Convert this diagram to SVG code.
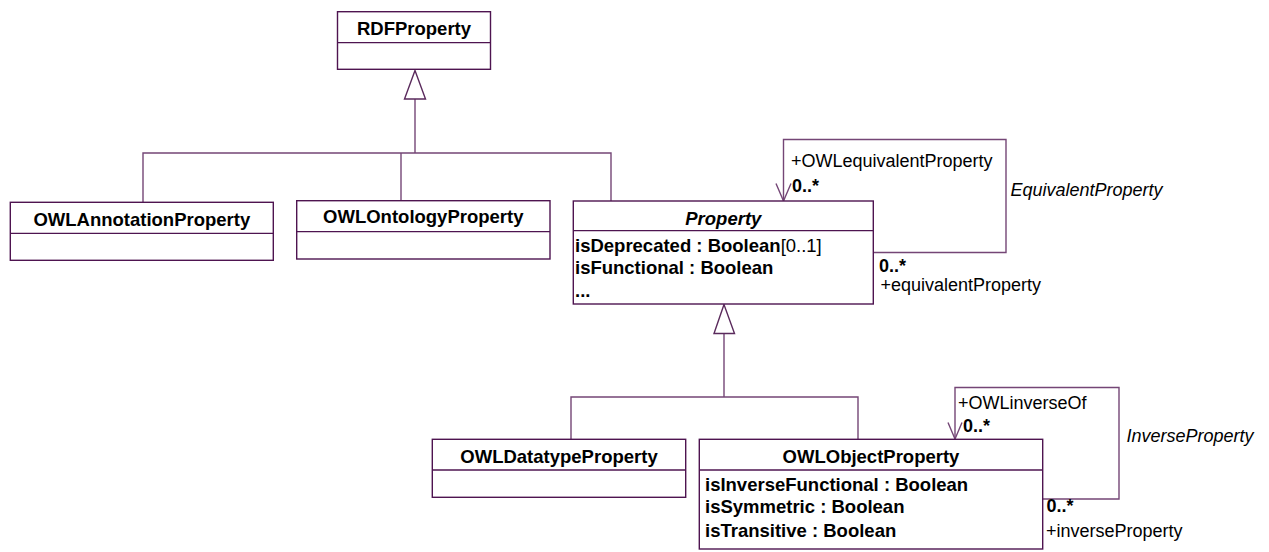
<svg xmlns="http://www.w3.org/2000/svg" width="1269" height="552" viewBox="0 0 1269 552">
<style>
.box{fill:#fff;stroke:#4e1450;stroke-width:1.4}
.div{stroke:#4e1450;stroke-width:1.3;fill:none}
.ln{stroke:#744676;stroke-width:1.4;fill:none}
.tri{fill:#fff;stroke:#5a2a5c;stroke-width:1.4}
.title{font-family:"Liberation Sans",Arial,sans-serif;font-size:18.5px;font-weight:bold;fill:#000;text-anchor:middle}
.attr{font-family:"Liberation Sans",Arial,sans-serif;font-size:18.5px;font-weight:bold;fill:#000}
.lbl{font-family:"Liberation Sans",Arial,sans-serif;font-size:18px;fill:#000}
.mult{font-family:"Liberation Sans",Arial,sans-serif;font-size:18px;font-weight:bold;fill:#000}
.assoc{font-family:"Liberation Sans",Arial,sans-serif;font-size:18px;font-style:italic;fill:#000}
</style>
<rect width="1269" height="552" fill="#fff"/>
<g id="connectors">
  <polyline class="ln" points="143,202 143,153 611,153 611,201"/>
  <line class="ln" x1="401" y1="153" x2="401" y2="201"/>
  <line class="ln" x1="415" y1="99" x2="415" y2="153"/>
  <polygon class="tri" points="415,70.5 404.5,99 425.5,99"/>
  <polyline class="ln" points="571,439 571,397 858,397 858,439"/>
  <line class="ln" x1="724" y1="333" x2="724" y2="397"/>
  <polygon class="tri" points="724,304.5 714,333.5 734.5,333.5"/>
  <polyline class="ln" points="873.5,252.5 1006,252.5 1006,139.5 783.5,139.5 783.5,201"/>
  <polyline class="ln" points="776,183.5 783.5,201 791,183.5"/>
  <polyline class="ln" points="1043,499 1119,499 1119,387.5 955,387.5 955,439"/>
  <polyline class="ln" points="948,422.5 955,439 962,422.5"/>
  <text class="lbl" x="791" y="166.5">+OWLequivalentProperty</text>
  <text class="mult" x="792" y="191.5">0..*</text>
  <text class="assoc" x="1010.5" y="195.5">EquivalentProperty</text>
  <text class="mult" x="879" y="272">0..*</text>
  <text class="lbl" x="880.5" y="291">+equivalentProperty</text>
  <text class="lbl" x="958" y="409">+OWLinverseOf</text>
  <text class="mult" x="963" y="431.5">0..*</text>
  <text class="assoc" x="1126.5" y="442">InverseProperty</text>
  <text class="mult" x="1046.5" y="511.5">0..*</text>
  <text class="lbl" x="1046" y="536.5">+inverseProperty</text>
</g>
<g id="RDFProperty">
  <rect class="box" x="337.5" y="11.7" width="153" height="57.6"/>
  <line class="div" x1="337.5" y1="42.7" x2="490.5" y2="42.7"/>
  <text class="title" x="414" y="35">RDFProperty</text>
</g>
<g id="OWLAnnotationProperty">
  <rect class="box" x="10.3" y="202.3" width="263" height="58"/>
  <line class="div" x1="10.3" y1="233.3" x2="273.3" y2="233.3"/>
  <text class="title" x="141.8" y="225.7">OWLAnnotationProperty</text>
</g>
<g id="OWLOntologyProperty">
  <rect class="box" x="296.7" y="200.7" width="253.3" height="58.3"/>
  <line class="div" x1="296.7" y1="231.7" x2="550" y2="231.7"/>
  <text class="title" x="423.3" y="223.3">OWLOntologyProperty</text>
</g>
<g id="Property">
  <rect class="box" x="573.3" y="201" width="300" height="103"/>
  <line class="div" x1="573.3" y1="230.7" x2="873.3" y2="230.7"/>
  <text class="title" x="723.3" y="225" font-style="italic">Property</text>
  <text class="attr" x="575" y="251.7">isDeprecated : Boolean<tspan font-weight="normal">[0..1]</tspan></text>
  <text class="attr" x="575" y="274.3">isFunctional : Boolean</text>
  <text class="attr" x="575" y="296.7">...</text>
</g>
<g id="OWLDatatypeProperty">
  <rect class="box" x="432.3" y="439.3" width="253.4" height="58"/>
  <line class="div" x1="432.3" y1="470" x2="685.7" y2="470"/>
  <text class="title" x="559" y="463.3">OWLDatatypeProperty</text>
</g>
<g id="OWLObjectProperty">
  <rect class="box" x="699.3" y="439.3" width="343.4" height="109.7"/>
  <line class="div" x1="699.3" y1="470" x2="1042.7" y2="470"/>
  <text class="title" x="871" y="463.3">OWLObjectProperty</text>
  <text class="attr" x="705" y="491">isInverseFunctional : Boolean</text>
  <text class="attr" x="705" y="513.3">isSymmetric : Boolean</text>
  <text class="attr" x="705" y="536.7">isTransitive : Boolean</text>
</g>
</svg>
